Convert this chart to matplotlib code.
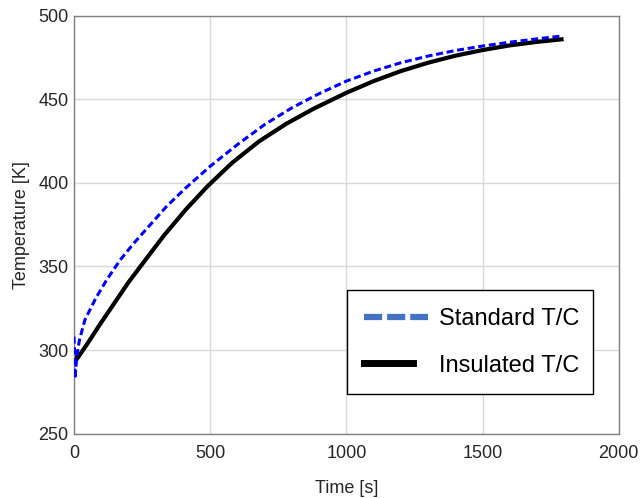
import matplotlib
matplotlib.use("Agg")
import matplotlib.pyplot as plt
from matplotlib.lines import Line2D
from matplotlib.legend_handler import HandlerLine2D

plt.rcParams['font.family'] = ['Liberation Sans', 'DejaVu Sans']

# Standard thermocouple (blue dashed)
std_time = [0, 4, 10, 20, 40, 80, 120, 170, 220, 280, 340, 410, 500, 600, 700,
            800, 900, 1000, 1100, 1200, 1300, 1400, 1500, 1600, 1700, 1790]
std_temp = [308, 283, 296, 306, 318, 331, 342, 354, 364, 375, 386, 397, 410, 423, 435,
            445, 453.5, 461, 467, 472, 476, 479.3, 482, 484.3, 486.3, 488]

# Insulated thermocouple (black solid)
ins_time = [0, 8, 50, 100, 150, 200, 260, 330, 410, 490, 580, 680, 780, 880,
            1000, 1100, 1200, 1300, 1400, 1500, 1600, 1700, 1790]
ins_temp = [300, 294, 304, 316.5, 328.5, 340.5, 353.5, 368.5, 384, 398, 412, 425, 435.5, 444.5,
            454, 461, 467, 472, 476.2, 479.6, 482.4, 484.5, 486]

x_ticks = [0, 500, 1000, 1500, 2000]
y_ticks = [250, 300, 350, 400, 450, 500]
legend_labels = ["Standard T/C", "Insulated T/C"]


class ShortHandler(HandlerLine2D):
    def __init__(self, frac, **kw):
        super().__init__(**kw)
        self.frac = frac

    def create_artists(self, legend, orig_handle, xdescent, ydescent, width,
                       height, fontsize, trans):
        return super().create_artists(legend, orig_handle, xdescent, ydescent,
                                      width * self.frac, height, fontsize, trans)


fig = plt.figure(figsize=(6.44, 4.98), dpi=100)
ax = fig.add_axes([0.1149, 0.1295, 0.9607 - 0.1149, 0.9679 - 0.1295])

ax.plot(std_time, std_temp, color='#0000FF', linestyle=(0, (2.3, 1.2)), linewidth=2.2,
        zorder=3, dash_joinstyle='round')
ax.plot(ins_time, ins_temp, color='black', linestyle='-', linewidth=3.0, zorder=2,
        solid_joinstyle='round')

ax.set_xlim(0, 2000)
ax.set_ylim(250, 500)
ax.set_xticks(x_ticks)
ax.set_yticks(y_ticks)
ax.grid(True, color='#d9d9d9', linewidth=1.0)
ax.set_axisbelow(True)
for s in ax.spines.values():
    s.set_color('#808080')
    s.set_linewidth(1.0)
ax.tick_params(length=0, labelsize=13, labelcolor='#262626')
ax.tick_params(axis='x', pad=8)
ax.tick_params(axis='y', pad=4)
ax.set_xlabel("Time [s]", fontsize=13, color='#262626', labelpad=13)
ax.set_ylabel("Temperature [K]", fontsize=13, color='#262626', labelpad=6)

blue_handle = Line2D([], [], color='#4472C4', linestyle=(0, (2.9, 0.8)), linewidth=4.5)
black_handle = Line2D([], [], color='black', linestyle='-', linewidth=5)
leg = ax.legend([blue_handle, black_handle], legend_labels, loc='lower left',
                bbox_to_anchor=(0.5007, 0.0939, 0.9534 - 0.5007, 0.3437 - 0.0939),
                mode='expand', fontsize=17, frameon=True, fancybox=False,
                edgecolor='black', framealpha=1, handlelength=2.7,
                handletextpad=0.45, labelspacing=1.05, borderpad=0.75,
                borderaxespad=0,
                handler_map={black_handle: ShortHandler(0.76)})
leg.get_frame().set_linewidth(1.0)

fig.savefig("out.png", dpi=100)
